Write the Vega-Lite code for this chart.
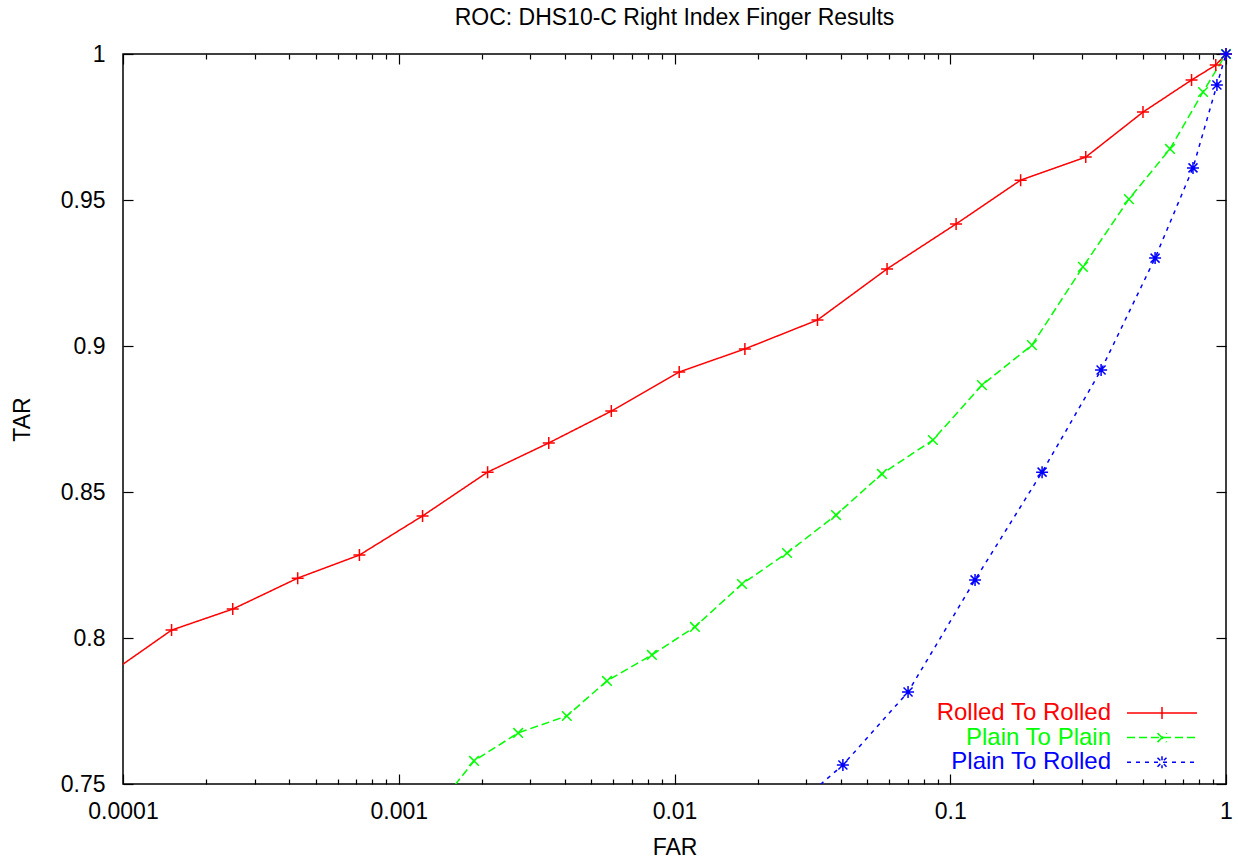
{
  "$schema": "https://vega.github.io/schema/vega-lite/v6.json",
  "width": 1103,
  "height": 730,
  "autosize": {"type": "none"},
  "padding": {"left": 123, "top": 54, "right": 12, "bottom": 76},
  "background": "white",
  "title": {"text": "ROC: DHS10-C Right Index Finger Results", "font": "Liberation Sans", "fontSize": 23, "fontWeight": "normal", "color": "black", "anchor": "middle", "offset": 13},
  "config": {
    "view": {"stroke": "black", "strokeWidth": 1.5},
    "axis": {"domain": false, "grid": false, "tickColor": "black", "tickWidth": 1.2, "labelFont": "Liberation Sans", "labelFontSize": 23, "labelColor": "black", "titleFont": "Liberation Sans", "titleFontSize": 23, "titleFontWeight": "normal", "titleColor": "black", "labelFlush": false, "labelOverlap": false}
  },
  "data": {"values": [
    {"series": "Rolled To Rolled", "FAR": 0.00009, "TAR": 0.788},
    {"series": "Rolled To Rolled", "FAR": 0.00015, "TAR": 0.8027},
    {"series": "Rolled To Rolled", "FAR": 0.00025, "TAR": 0.8099},
    {"series": "Rolled To Rolled", "FAR": 0.00043, "TAR": 0.8205},
    {"series": "Rolled To Rolled", "FAR": 0.00072, "TAR": 0.8284},
    {"series": "Rolled To Rolled", "FAR": 0.00122, "TAR": 0.8418},
    {"series": "Rolled To Rolled", "FAR": 0.0021, "TAR": 0.8568},
    {"series": "Rolled To Rolled", "FAR": 0.0035, "TAR": 0.8668},
    {"series": "Rolled To Rolled", "FAR": 0.0059, "TAR": 0.8777},
    {"series": "Rolled To Rolled", "FAR": 0.0104, "TAR": 0.8911},
    {"series": "Rolled To Rolled", "FAR": 0.018, "TAR": 0.899},
    {"series": "Rolled To Rolled", "FAR": 0.033, "TAR": 0.9089},
    {"series": "Rolled To Rolled", "FAR": 0.059, "TAR": 0.9264},
    {"series": "Rolled To Rolled", "FAR": 0.105, "TAR": 0.9418},
    {"series": "Rolled To Rolled", "FAR": 0.18, "TAR": 0.9568},
    {"series": "Rolled To Rolled", "FAR": 0.31, "TAR": 0.9647},
    {"series": "Rolled To Rolled", "FAR": 0.5, "TAR": 0.9801},
    {"series": "Rolled To Rolled", "FAR": 0.75, "TAR": 0.9911},
    {"series": "Rolled To Rolled", "FAR": 0.918, "TAR": 0.9962},
    {"series": "Rolled To Rolled", "FAR": 1.0, "TAR": 1.0},
    {"series": "Plain To Plain", "FAR": 0.00141, "TAR": 0.7432},
    {"series": "Plain To Plain", "FAR": 0.001875, "TAR": 0.7579},
    {"series": "Plain To Plain", "FAR": 0.00271, "TAR": 0.7675},
    {"series": "Plain To Plain", "FAR": 0.00407, "TAR": 0.7733},
    {"series": "Plain To Plain", "FAR": 0.00569, "TAR": 0.7853},
    {"series": "Plain To Plain", "FAR": 0.00828, "TAR": 0.7942},
    {"series": "Plain To Plain", "FAR": 0.01186, "TAR": 0.8038},
    {"series": "Plain To Plain", "FAR": 0.01757, "TAR": 0.8185},
    {"series": "Plain To Plain", "FAR": 0.02559, "TAR": 0.8291},
    {"series": "Plain To Plain", "FAR": 0.03853, "TAR": 0.8421},
    {"series": "Plain To Plain", "FAR": 0.05653, "TAR": 0.8562},
    {"series": "Plain To Plain", "FAR": 0.0865, "TAR": 0.8678},
    {"series": "Plain To Plain", "FAR": 0.1303, "TAR": 0.8866},
    {"series": "Plain To Plain", "FAR": 0.1978, "TAR": 0.9003},
    {"series": "Plain To Plain", "FAR": 0.3028, "TAR": 0.9271},
    {"series": "Plain To Plain", "FAR": 0.4446, "TAR": 0.9503},
    {"series": "Plain To Plain", "FAR": 0.6266, "TAR": 0.9675},
    {"series": "Plain To Plain", "FAR": 0.8254, "TAR": 0.987},
    {"series": "Plain To Plain", "FAR": 1.0, "TAR": 1.0},
    {"series": "Plain To Rolled", "FAR": 0.02851, "TAR": 0.7438},
    {"series": "Plain To Rolled", "FAR": 0.0408, "TAR": 0.7565},
    {"series": "Plain To Rolled", "FAR": 0.0703, "TAR": 0.7815},
    {"series": "Plain To Rolled", "FAR": 0.123, "TAR": 0.8199},
    {"series": "Plain To Rolled", "FAR": 0.2153, "TAR": 0.8568},
    {"series": "Plain To Rolled", "FAR": 0.3524, "TAR": 0.8918},
    {"series": "Plain To Rolled", "FAR": 0.5531, "TAR": 0.9301},
    {"series": "Plain To Rolled", "FAR": 0.759, "TAR": 0.961},
    {"series": "Plain To Rolled", "FAR": 0.927, "TAR": 0.9894},
    {"series": "Plain To Rolled", "FAR": 1.0, "TAR": 1.0}
  ]},
  "resolve": {"axis": {"x": "independent", "y": "independent"}},
  "layer": [
    {
      "mark": {"type": "line", "clip": true, "strokeWidth": 1.5},
      "encoding": {
        "x": {"field": "FAR", "type": "quantitative", "scale": {"type": "log", "domain": [0.0001, 1], "nice": false},
          "axis": {"orient": "bottom", "title": "FAR", "titleX": 551.5, "titleY": 70, "titleBaseline": "alphabetic", "titleAlign": "center",
            "values": [0.0001,0.0002,0.0003,0.0004,0.0005,0.0006,0.0007,0.0008,0.0009,0.001,0.002,0.003,0.004,0.005,0.006,0.007,0.008,0.009,0.01,0.02,0.03,0.04,0.05,0.06,0.07,0.08,0.09,0.1,0.2,0.3,0.4,0.5,0.6,0.7,0.8,0.9,1],
            "tickSize": {"condition": {"test": "abs(log(datum.value)/LN10 - round(log(datum.value)/LN10)) < 0.000001", "value": -10}, "value": -5},
            "labelExpr": "abs(log(datum.value)/LN10 - round(log(datum.value)/LN10)) < 0.000001 ? format(datum.value, '~g') : ''",
            "labelPadding": 26}},
        "y": {"field": "TAR", "type": "quantitative", "scale": {"domain": [0.75, 1], "nice": false, "zero": false},
          "axis": {"orient": "left", "title": "TAR", "titleX": -101, "titleY": 365, "titleAngle": -90, "titleBaseline": "middle", "titleAlign": "center",
            "values": [0.75, 0.8, 0.85, 0.9, 0.95, 1], "format": "~g", "tickSize": -10, "labelPadding": 28}},
        "color": {"field": "series", "type": "nominal",
          "scale": {"domain": ["Rolled To Rolled", "Plain To Plain", "Plain To Rolled"], "range": ["#ff0000", "#00ff00", "#0000ff"]},
          "legend": {"orient": "none", "legendX": 1004, "legendY": 647, "title": null, "padding": 0, "rowPadding": 0.6,
            "labelFont": "Liberation Sans", "labelFontSize": 24, "labelLimit": 400, "symbolSize": 100, "symbolStrokeWidth": 1.5,
            "encode": {
              "labels": {"update": {"fill": {"signal": "scale('color', datum.value)"}, "align": {"value": "right"}, "x": {"value": -16}}},
              "symbols": {"update": {
                "shape": {"signal": "datum.value === 'Rolled To Rolled' ? 'M-7,0L7,0M0,-1.2L0,1.2' : datum.value === 'Plain To Plain' ? 'M-7,0L7,0M-0.9,-0.9L0.9,0.9M-0.9,0.9L0.9,-0.9' : 'M-7,0L7,0M0,-1.2L0,1.2M-0.9,-0.9L0.9,0.9M-0.9,0.9L0.9,-0.9'"},
                "x": {"value": 35},
                "stroke": {"signal": "scale('color', datum.value)"},
                "strokeDash": {"signal": "scale('strokeDash', datum.value)"},
                "fill": {"value": "transparent"}}}
            }}},
        "strokeDash": {"field": "series", "type": "nominal",
          "scale": {"domain": ["Rolled To Rolled", "Plain To Plain", "Plain To Rolled"], "range": [[1, 0], [8, 4], [4, 5]]},
          "legend": null}
      }
    },
    {
      "transform": [{"filter": "datum.series === 'Rolled To Rolled' && datum.FAR >= 0.0001 && datum.TAR >= 0.75"}],
      "mark": {"type": "point", "clip": false, "filled": false, "strokeWidth": 1.5, "size": 144, "opacity": 1, "shape": "M-1,0L1,0M0,-1L0,1"},
      "encoding": {
        "x": {"field": "FAR", "type": "quantitative", "scale": {"type": "log", "domain": [0.0001, 1], "nice": false},
          "axis": {"orient": "top", "title": null, "labels": false,
            "values": [0.0001,0.0002,0.0003,0.0004,0.0005,0.0006,0.0007,0.0008,0.0009,0.001,0.002,0.003,0.004,0.005,0.006,0.007,0.008,0.009,0.01,0.02,0.03,0.04,0.05,0.06,0.07,0.08,0.09,0.1,0.2,0.3,0.4,0.5,0.6,0.7,0.8,0.9,1],
            "tickSize": {"condition": {"test": "abs(log(datum.value)/LN10 - round(log(datum.value)/LN10)) < 0.000001", "value": -10}, "value": -5}}},
        "y": {"field": "TAR", "type": "quantitative", "scale": {"domain": [0.75, 1], "nice": false, "zero": false},
          "axis": {"orient": "right", "title": null, "labels": false, "values": [0.75, 0.8, 0.85, 0.9, 0.95, 1], "tickSize": -10}},
        "color": {"field": "series", "type": "nominal", "legend": null}
      }
    },
    {
      "transform": [{"filter": "datum.series === 'Plain To Plain' && datum.FAR >= 0.0001 && datum.TAR >= 0.75"}],
      "mark": {"type": "point", "clip": false, "filled": false, "strokeWidth": 1.5, "size": 144, "opacity": 1, "shape": "M-0.8,-0.8L0.8,0.8M-0.8,0.8L0.8,-0.8"},
      "encoding": {
        "x": {"field": "FAR", "type": "quantitative", "scale": {"type": "log", "domain": [0.0001, 1], "nice": false}, "axis": null},
        "y": {"field": "TAR", "type": "quantitative", "scale": {"domain": [0.75, 1], "nice": false, "zero": false}, "axis": null},
        "color": {"field": "series", "type": "nominal", "legend": null}
      }
    },
    {
      "transform": [{"filter": "datum.series === 'Plain To Rolled' && datum.FAR >= 0.0001 && datum.TAR >= 0.75"}],
      "mark": {"type": "point", "clip": false, "filled": false, "strokeWidth": 1.5, "size": 144, "opacity": 1, "shape": "M-1,0L1,0M0,-1L0,1M-0.75,-0.75L0.75,0.75M-0.75,0.75L0.75,-0.75"},
      "encoding": {
        "x": {"field": "FAR", "type": "quantitative", "scale": {"type": "log", "domain": [0.0001, 1], "nice": false}, "axis": null},
        "y": {"field": "TAR", "type": "quantitative", "scale": {"domain": [0.75, 1], "nice": false, "zero": false}, "axis": null},
        "color": {"field": "series", "type": "nominal", "legend": null}
      }
    }
  ]
}
